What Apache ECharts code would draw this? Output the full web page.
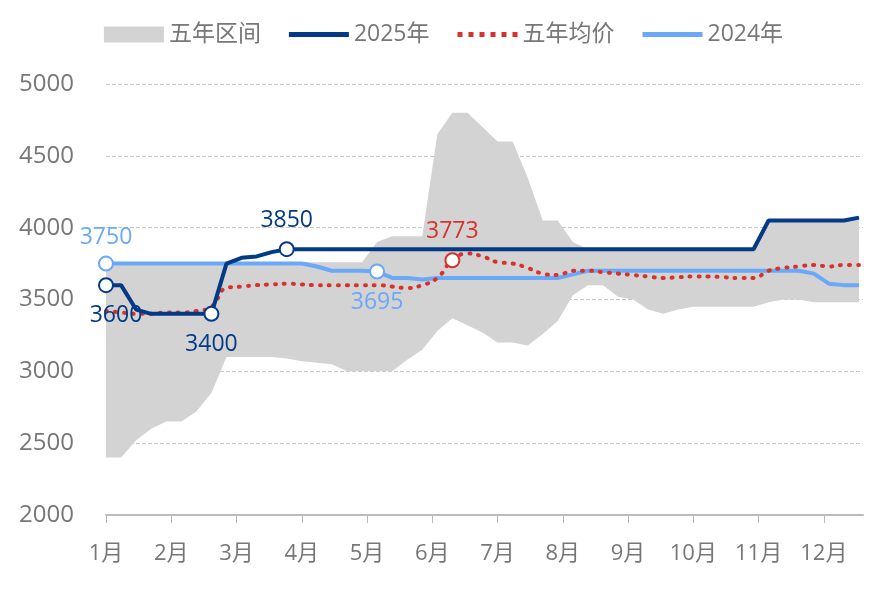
<!DOCTYPE html>
<html><head><meta charset="utf-8">
<script src="https://cdn.jsdelivr.net/npm/echarts@6/dist/echarts.min.js"></script>
<style>html,body{margin:0;padding:0;background:#fff}#c{width:887px;height:590px}</style>
</head><body><div id="c"></div>
<script>
var monthLabels = ['1月','2月','3月','4月','5月','6月','7月','8月','9月','10月','11月','12月'];
var s2025 = [3600,3600,3430,3400,3400,3400,3400,3400,3750,3790,3800,3830,3850,3850,3850,3850,3850,3850,3850,3850,3850,3850,3850,3850,3850,3850,3850,3850,3850,3850,3850,3850,3850,3850,3850,3850,3850,3850,3850,3850,3850,3850,3850,3850,4050,4050,4050,4050,4050,4050,4070];
var s2024 = [3750,3750,3750,3750,3750,3750,3750,3750,3750,3750,3750,3750,3750,3750,3730,3700,3700,3700,3695,3650,3650,3640,3650,3650,3650,3650,3650,3650,3650,3650,3650,3675,3700,3700,3700,3700,3700,3700,3700,3700,3700,3700,3700,3700,3700,3700,3700,3680,3610,3600,3600];
var avg5 = [3420,3410,3400,3400,3410,3410,3420,3450,3580,3590,3600,3605,3610,3605,3600,3600,3600,3600,3600,3590,3580,3600,3650,3773,3820,3800,3760,3750,3720,3680,3670,3700,3700,3690,3680,3670,3660,3650,3655,3660,3660,3655,3650,3650,3700,3720,3730,3740,3730,3740,3740];
var low5 = [2400,2400,2520,2600,2650,2650,2720,2850,3100,3100,3100,3100,3090,3070,3060,3050,3000,3000,3000,3000,3080,3150,3280,3370,3320,3270,3200,3200,3180,3260,3350,3530,3600,3600,3520,3500,3430,3400,3430,3450,3450,3450,3450,3450,3480,3500,3500,3480,3480,3480,3480];
var high5 = [3760,3760,3760,3760,3760,3760,3760,3760,3760,3760,3760,3760,3760,3760,3760,3760,3760,3760,3900,3940,3940,3940,4650,4800,4800,4700,4600,4600,4350,4050,4050,3900,3850,3850,3850,3850,3850,3850,3850,3850,3850,3850,3850,3850,4050,4050,4050,4050,4050,4050,4070];
var wk = 12/52;
function pts(arr){return arr.map(function(v,i){return [i*wk,v];});}
var dark='#033A86', light='#6AA8F8', red='#D8312C';
function mk(x,v,color,pos,txt,off){
  return {value:[x,v],symbol:'circle',symbolSize:14,itemStyle:{color:'#fff',borderColor:color,borderWidth:2},
    label:{show:true,position:pos,formatter:txt,color:color,fontSize:23,offset:off||[0,0]}};
}
var d2025=pts(s2025);
d2025[0]=mk(0,s2025[0],dark,'bottom','3600',[10,6]);
d2025[7]=mk(7*wk,s2025[7],dark,'bottom','3400',[0,6]);
d2025[12]=mk(12*wk,s2025[12],dark,'top','3850',[0,-4]);
var d2024=pts(s2024);
d2024[0]=mk(0,s2024[0],light,'top','3750',[0,-2]);
d2024[18]=mk(18*wk,s2024[18],light,'bottom','3695',[0,6]);
var dAvg=pts(avg5);
dAvg[23]=mk(23*wk,avg5[23],red,'top','3773',[0,-4]);
var bandData=low5.map(function(v,i){return [i*wk,v,high5[i]];});
var linePath='path://M0,0 H60 V5 H0 Z';
var dotPath='path://M0,0 h5 v5 h-5 Z M11,0 h5 v5 h-5 Z M22,0 h5 v5 h-5 Z M33,0 h5 v5 h-5 Z M44,0 h5 v5 h-5 Z M55,0 h5 v5 h-5 Z';
var chart=echarts.init(document.getElementById('c'));
chart.setOption({
  animation:false,
  textStyle:{fontFamily:'"Open Sans","Noto Sans CJK SC",sans-serif'},
  legend:{top:18,left:'center',itemGap:28,itemWidth:60,itemHeight:16,textStyle:{fontSize:23,color:'#777'},
    data:[{name:'五年区间',icon:'rect'},{name:'2025年',icon:linePath,itemHeight:5},{name:'五年均价',icon:dotPath,itemHeight:5},{name:'2024年',icon:linePath,itemHeight:5}]},
  grid:{left:106,right:24,top:84,bottom:75},
  xAxis:{type:'value',min:0,max:11.6,interval:1,
    axisLine:{lineStyle:{color:'#bbb',width:2}},axisTick:{show:true,length:8,lineStyle:{color:'#bbb'}},
    splitLine:{show:false},
    axisLabel:{fontSize:22,color:'#777',margin:28,showMaxLabel:false,formatter:function(v){return monthLabels[Math.round(v)]||'';}}},
  yAxis:{type:'value',min:2000,max:5000,interval:500,axisLine:{show:false},axisTick:{show:false},
    axisLabel:{fontSize:24,color:'#777',margin:32,formatter:function(v){return String(v);}},
    splitLine:{lineStyle:{type:'dashed',color:'#c8c8c8'}}},
  series:[
    {name:'五年区间',type:'custom',data:bandData,itemStyle:{color:'#d3d3d3'},z:1,
      renderItem:function(params,api){
        if(params.dataIndex!==0) return null;
        var top=[],bot=[];
        for(var i=0;i<bandData.length;i++){
          top.push(api.coord([bandData[i][0],bandData[i][2]]));
          bot.unshift(api.coord([bandData[i][0],bandData[i][1]]));
        }
        return {type:'polygon',shape:{points:top.concat(bot)},style:{fill:'#d3d3d3'}};
      }},
    {name:'2024年',type:'line',data:d2024,symbol:'none',lineStyle:{width:4,color:light},itemStyle:{color:light},z:3},
    {name:'五年均价',type:'line',data:dAvg,symbol:'none',smooth:true,lineStyle:{width:4,type:[1,8],cap:'round',color:red},itemStyle:{color:red},z:4},
    {name:'2025年',type:'line',data:d2025,symbol:'none',lineStyle:{width:4,color:dark},itemStyle:{color:dark},z:5}
  ]
});
</script></body></html>
